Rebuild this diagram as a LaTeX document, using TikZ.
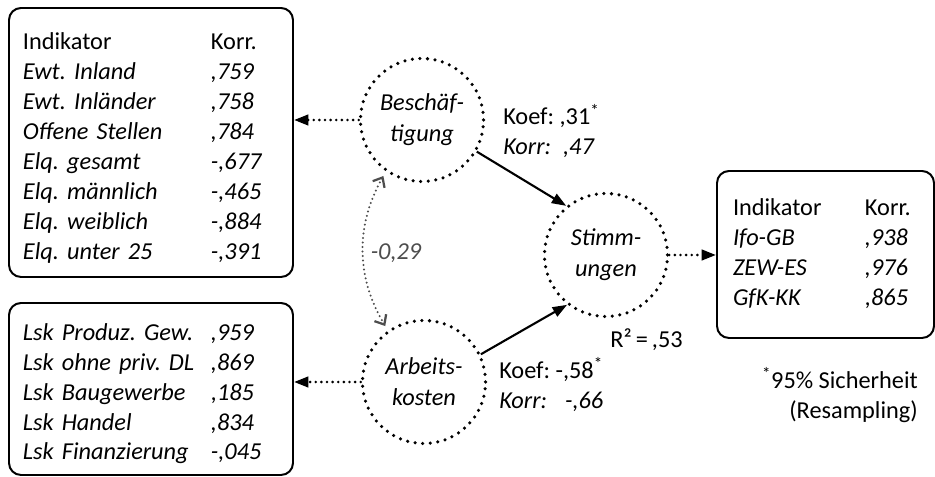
\documentclass[tikz,border=0pt]{standalone}
\usepackage{fontspec}
\setmainfont{Carlito}
\usetikzlibrary{arrows.meta}
\frenchspacing

% Changing color 77 77 77
\definecolor{r77g77b77}{rgb}{0.301961,0.301961,0.301961}

\begin{document}
\begin{tikzpicture}[
    font=\fontsize{17.3}{21.3}\selectfont,
    konstrukt/.style={circle, draw, line width=2.5pt, line cap=round,
      dash pattern=on 0pt off 5.4pt, minimum size=3.075cm, inner sep=0pt,
      align=center, font=\fontsize{17.3}{22}\selectfont\itshape},
    indikatorbox/.style={draw, line width=1.4pt, rounded corners=0.3cm,
      align=left, inner ysep=0pt},
    ladung/.style={line width=2.1pt, line cap=round, dash pattern=on 0pt off 4pt,
      -{Triangle[length=0.36cm,width=0.26cm]}},
    pfad/.style={line width=1.5pt, -{Triangle[length=0.36cm,width=0.26cm]}},
    korrelation/.style={draw=r77g77b77, line width=1.6pt, line cap=round,
      dash pattern=on 0pt off 3.2pt, shorten <=0.12cm, shorten >=0.12cm,
      {Straight Barb[length=0.2cm,width=0.34cm]}-{Straight Barb[length=0.2cm,width=0.34cm]}},
    beschriftung/.style={inner sep=0pt, align=left}
  ]
  \useasboundingbox (0.000000,0.000000) rectangle (23.375000,11.925000);

  % Drawing latent variables
  \node (besch) [konstrukt] at (10.550000,8.925000) {Besch\"af-\\tigung};
  \node (arb) [konstrukt] at (10.600000,2.375000) {Arbeits-\\kosten};
  \node (stimm) [konstrukt] at (15.150000,5.550000) {Stimm-\\ungen};

  % Drawing indicator boxes
  \node (indbesch) [indikatorbox, text width=6.4cm, inner xsep=0.35cm,
    minimum height=6.725cm] at (3.775000,8.362500) {%
    \begin{tabular}{@{}p{4.7cm}@{}l@{}}
      \rule{0pt}{0.83cm}Indikator & Korr.\\
      \textit{Ewt. Inland} & \textit{,759}\\
      \textit{Ewt. Inl\"ander} & \textit{,758}\\
      \textit{Offene Stellen} & \textit{,784}\\
      \textit{Elq. gesamt} & \textit{-,677}\\
      \textit{Elq. m\"annlich} & \textit{-,465}\\
      \textit{Elq. weiblich} & \textit{-,884}\\
      \textit{Elq. unter 25} & \textit{-,391}
    \end{tabular}};
  \node (indarb) [indikatorbox, text width=6.4cm, inner xsep=0.35cm,
    minimum height=4.3cm] at (3.775000,2.200000) {%
    \begin{tabular}{@{}p{4.7cm}@{}l@{}}
      \rule{0pt}{0.78cm}\textit{Lsk Produz. Gew.} & \textit{,959}\\
      \textit{Lsk ohne priv. DL} & \textit{,869}\\
      \textit{Lsk Baugewerbe} & \textit{,185}\\
      \textit{Lsk Handel} & \textit{,834}\\
      \textit{Lsk Finanzierung} & \textit{-,045}
    \end{tabular}};
  \node (indstimm) [indikatorbox, text width=4.625cm, inner xsep=0.4cm,
    minimum height=4.175cm] at (20.637500,5.562500) {%
    \begin{tabular}{@{}p{3.3cm}@{}l@{}}
      Indikator & Korr.\\
      \textit{Ifo-GB} & \textit{,938}\\
      \textit{ZEW-ES} & \textit{,976}\\
      \textit{GfK-KK} & \textit{,865}
    \end{tabular}};

  % Drawing loadings
  \draw [ladung] (besch.west) -- (indbesch.east |- besch.west);
  \draw [ladung] (arb.west) -- (indarb.east |- arb.west);
  \draw [ladung] (stimm.east) -- (indstimm.west |- stimm.east);

  % Drawing paths
  \draw [pfad] (besch.-30) -- (stimm.129);
  \draw [pfad] (arb.26) -- (stimm.232);
  \draw [korrelation] (besch.235) to[bend right=30] (arb.125);

  % Marking coefficients
  \node (koefbesch) [beschriftung, anchor=west] at (12.575000,8.650000)
    {Koef: ,31\textsuperscript{*}\\\textit{Korr:}\hspace{0.3cm}\textit{,47}};
  \node (koefarb) [beschriftung, anchor=west] at (12.475000,2.312500)
    {Koef: -,58\textsuperscript{*}\\\textit{Korr:}\hspace{0.45cm}\textit{-,66}};
  \node (rquadrat) [beschriftung] at (16.162500,3.425000) {R²\,=\,,53};
  \node (korrwert) [beschriftung, text=r77g77b77, font=\fontsize{17.3}{21.3}\selectfont\itshape]
    at (9.900000,5.600000) {-0,29};

  % Marking footnote
  \node (fussnote) [beschriftung, anchor=east, align=right] at (22.950000,2.050000)
    {\textsuperscript{*}95\% Sicherheit\\(Resampling)};
\end{tikzpicture}
\end{document}
